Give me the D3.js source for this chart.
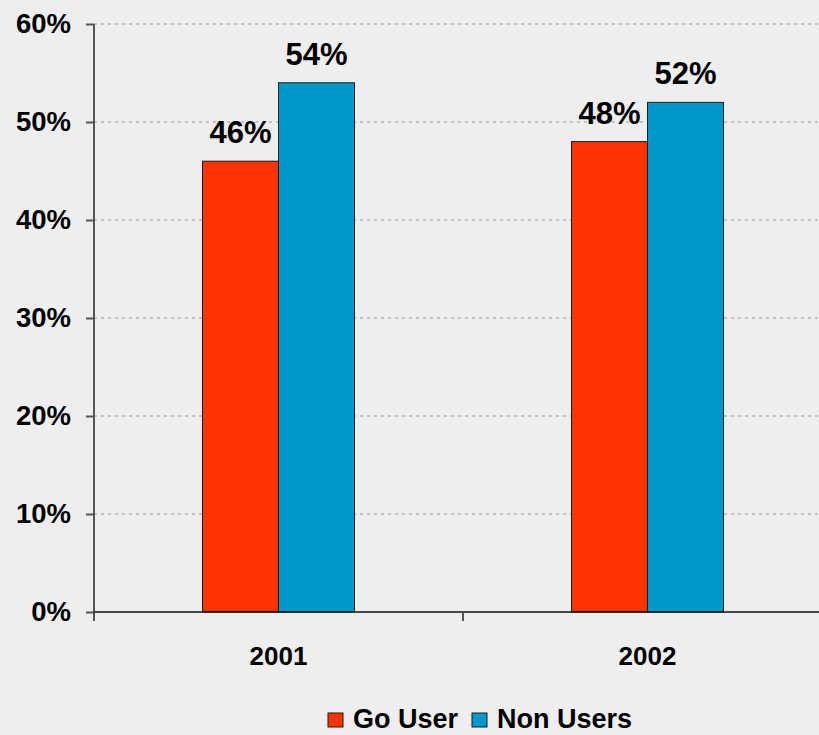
<!DOCTYPE html>
<html>
<head>
<meta charset="utf-8">
<script src="https://cdn.jsdelivr.net/npm/d3@7"></script>
<style>
  html, body { margin: 0; padding: 0; background: #eeeeee; }
  svg { display: block; font-family: "Liberation Sans", Arial, sans-serif; font-weight: bold; }
</style>
</head>
<body>
<svg id="chart" width="819" height="735"></svg>
<script>
// Survey years and share of respondents per group
const years = ["2001", "2002"];
const seriesNames = ["Go User", "Non Users"];
const goUser = [46, 48];
const nonUsers = [54, 52];
const seriesColors = ["#ff3300", "#0099cc"];
const yTicks = [0, 10, 20, 30, 40, 50, 60];

const svg = d3.select("#chart");
const W = 819, H = 735;
const plotLeft = 94, plotTop = 24, plotBottom = 612;
const bandW = 369;

const rows = years.map((yr, i) => ({ year: yr, values: [goUser[i], nonUsers[i]] }));

const x0 = d3.scaleBand().domain(years).range([plotLeft, plotLeft + bandW * years.length]);
const groupW = 152;
const x1 = d3.scaleBand().domain(seriesNames)
  .range([(x0.bandwidth() - groupW) / 2, (x0.bandwidth() + groupW) / 2]);
const y = d3.scaleLinear().domain([0, 60]).range([plotBottom, plotTop]);

svg.append("rect").attr("width", W).attr("height", H).attr("fill", "#eeeeee");

// dashed horizontal gridlines
svg.append("g").selectAll("line")
  .data(yTicks.filter(t => t > 0))
  .join("line")
  .attr("x1", plotLeft).attr("x2", W)
  .attr("y1", d => y(d)).attr("y2", d => y(d))
  .attr("stroke", "#b4b4b4").attr("stroke-width", 1.5)
  .attr("stroke-dasharray", "3,4");

// bars
const groups = svg.append("g").selectAll("g")
  .data(rows).join("g")
  .attr("transform", d => `translate(${x0(d.year)},0)`);

groups.selectAll("rect")
  .data(d => d.values.map((v, i) => ({ name: seriesNames[i], value: v, color: seriesColors[i] })))
  .join("rect")
  .attr("x", d => x1(d.name))
  .attr("y", d => y(d.value))
  .attr("width", x1.bandwidth())
  .attr("height", d => plotBottom - y(d.value))
  .attr("fill", d => d.color)
  .attr("stroke", "#1a1a1a").attr("stroke-width", 1);

groups.selectAll("text")
  .data(d => d.values.map((v, i) => ({ name: seriesNames[i], value: v })))
  .join("text")
  .attr("x", d => x1(d.name) + x1.bandwidth() / 2)
  .attr("y", d => y(d.value) - 18)
  .attr("text-anchor", "middle")
  .attr("font-size", 31)
  .attr("fill", "#000")
  .text(d => d.value + "%");

// y axis
const yAxis = d3.axisLeft(y).tickValues(yTicks).tickFormat(d => d + "%")
  .tickSize(8).tickPadding(15);
const gy = svg.append("g").attr("transform", `translate(${plotLeft},0)`).call(yAxis);
gy.select(".domain").remove();
gy.append("line").attr("x1", 0).attr("x2", 0).attr("y1", plotTop).attr("y2", plotBottom + 9)
  .attr("stroke", "#555").attr("stroke-width", 2);
gy.selectAll(".tick line").attr("stroke", "#555").attr("stroke-width", 2);
gy.selectAll(".tick text").attr("font-size", 27.5).attr("font-weight", "bold")
  .attr("fill", "#000").attr("font-family", "Liberation Sans, Arial, sans-serif");

// x axis
const gx = svg.append("g").attr("transform", `translate(0,${plotBottom})`);
gx.append("line").attr("x1", plotLeft).attr("x2", W).attr("y1", 0).attr("y2", 0)
  .attr("stroke", "#111").attr("stroke-width", 1.5);
gx.selectAll(".sep").data(years.slice(1)).join("line")
  .attr("class", "sep")
  .attr("x1", d => x0(d)).attr("x2", d => x0(d))
  .attr("y1", 0).attr("y2", 9)
  .attr("stroke", "#555").attr("stroke-width", 2);
gx.selectAll(".lbl").data(years).join("text")
  .attr("class", "lbl")
  .attr("x", d => x0(d) + x0.bandwidth() / 2)
  .attr("y", 53)
  .attr("text-anchor", "middle")
  .attr("font-size", 26)
  .attr("fill", "#000")
  .text(d => d);

// legend
const legend = svg.append("g");
const legendItems = [
  { name: seriesNames[0], color: seriesColors[0], x: 328 },
  { name: seriesNames[1], color: seriesColors[1], x: 472 }
];
legendItems.forEach(it => {
  legend.append("rect").attr("x", it.x).attr("y", 713).attr("width", 15).attr("height", 14)
    .attr("fill", it.color).attr("stroke", "#1a1a1a").attr("stroke-width", 1);
  legend.append("text").attr("x", it.x + 25).attr("y", 728)
    .attr("font-size", 27).attr("fill", "#000").text(it.name);
});
</script>
</body>
</html>
